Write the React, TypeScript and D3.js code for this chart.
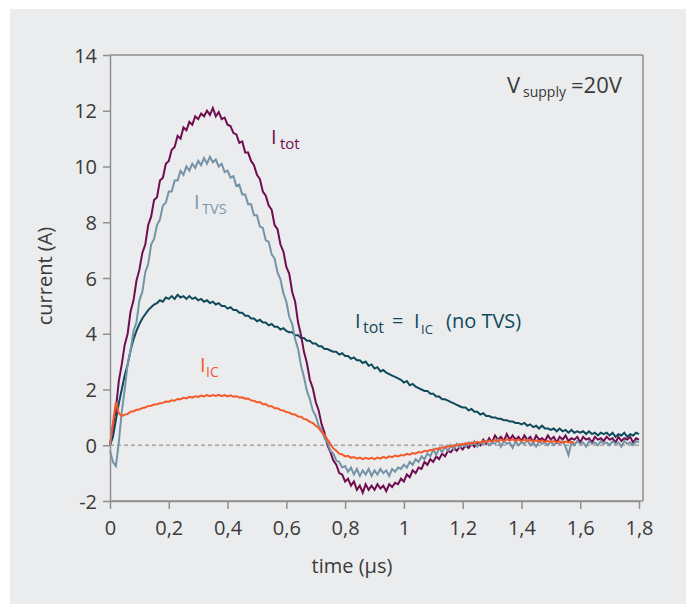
import * as d3 from "d3";
import React, { useEffect, useRef } from "react";

// sampled every 0.01 µs starting at t = 0
const SAMPLE_STEP_US = 0.01;

// I_tot with TVS (purple)
const iTot = [
  0.0, 0.7, 1.3, 2.3, 2.9, 3.6, 4.0, 4.8, 5.2, 5.9,
  6.3, 6.9, 7.2, 7.9, 8.2, 8.8, 8.9, 9.5, 9.6, 10.1,
  10.2, 10.6, 10.7, 11.1, 11.0, 11.4, 11.3, 11.6, 11.5, 11.8,
  11.7, 11.9, 11.8, 12.0, 11.85, 12.1, 11.8, 11.95, 11.7, 11.75,
  11.5, 11.45, 11.2, 11.15, 10.85, 10.9, 10.5, 10.5, 10.2, 10.05,
  9.7, 9.55, 9.1, 8.95, 8.6, 8.45, 7.9, 7.75, 7.2, 6.95,
  6.4, 6.15, 5.5, 5.15, 4.4, 3.95, 3.35, 2.95, 2.35, 2.05,
  1.55, 1.25, 0.75, 0.45, 0.0, -0.25, -0.55, -0.7, -1.0, -1.05,
  -1.3, -1.2, -1.45, -1.3, -1.6, -1.45, -1.7, -1.4, -1.6, -1.45,
  -1.6, -1.4, -1.55, -1.45, -1.65, -1.4, -1.5, -1.35, -1.4, -1.2,
  -1.3, -1.05, -1.15, -0.9, -1.0, -0.8, -0.85, -0.6, -0.7, -0.5,
  -0.6, -0.4, -0.5, -0.3, -0.4, -0.2, -0.25, -0.1, -0.2, -0.05,
  -0.15, 0.0, -0.1, 0.05, -0.05, 0.1, 0.0, 0.2, 0.05, 0.25,
  0.1, 0.35, 0.2, 0.3, 0.15, 0.4, 0.2, 0.35, 0.2, 0.3,
  0.15, 0.35, 0.2, 0.3, 0.1, 0.35, 0.2, 0.25, 0.15, 0.35,
  0.2, 0.3, 0.1, 0.3, 0.2, 0.35, 0.15, 0.25, 0.2, 0.3,
  0.1, 0.3, 0.2, 0.25, 0.1, 0.3, 0.2, 0.25, 0.15, 0.3,
  0.2, 0.25, 0.1, 0.3, 0.15, 0.25, 0.2, 0.3, 0.1, 0.25,
  0.2,
];

// I_TVS (grey blue)
const iTvs = [
  -0.2, -0.6, -0.75, 0.1, 1.2, 2.0, 2.9, 3.4, 4.1, 4.4,
  5.2, 5.5, 6.2, 6.5, 7.2, 7.4, 7.9, 8.1, 8.6, 8.7,
  9.1, 9.1, 9.5, 9.5, 9.85, 9.7, 10.0, 9.85, 10.1, 9.95,
  10.2, 10.05, 10.3, 10.1, 10.35, 10.15, 10.25, 10.0, 10.1, 9.8,
  9.85, 9.6, 9.65, 9.3, 9.35, 9.0, 9.0, 8.65, 8.65, 8.25,
  8.25, 7.85, 7.8, 7.35, 7.3, 6.85, 6.7, 6.2, 5.95, 5.45,
  5.15, 4.6, 4.35, 3.8, 3.45, 2.85, 2.45, 1.95, 1.65, 1.25,
  1.05, 0.7, 0.55, 0.25, 0.1, -0.2, -0.3, -0.55, -0.6, -0.8,
  -0.75, -0.95, -0.8, -1.05, -0.85, -1.1, -0.9, -1.05, -0.85, -1.1,
  -0.9, -1.05, -0.85, -1.0, -0.9, -1.1, -0.85, -0.95, -0.8, -0.85,
  -0.7, -0.8, -0.6, -0.7, -0.5, -0.6, -0.4, -0.5, -0.3, -0.4,
  -0.15, -0.35, -0.1, -0.25, -0.05, -0.2, 0.0, -0.15, 0.05, -0.1,
  0.05, -0.05, 0.1, 0.0, 0.15, -0.05, 0.1, 0.05, 0.15, 0.0,
  0.1, 0.05, 0.2, -0.05, 0.15, 0.05, 0.1, -0.1, 0.15, 0.0,
  0.1, 0.05, 0.2, 0.0, 0.1, -0.05, 0.15, 0.05, 0.1, 0.0,
  0.15, 0.0, 0.1, 0.05, 0.15, -0.05, -0.35, 0.1, 0.0, 0.15,
  0.05, 0.1, -0.05, 0.15, 0.05, 0.1, 0.0, 0.15, 0.05, 0.1,
  0.0, 0.15, 0.05, 0.1, -0.05, 0.15, 0.05, 0.1, 0.0, 0.15,
  0.1,
];

// I_tot = I_IC without TVS (dark teal)
const iNoTvs = [
  0.0, 0.3, 0.9, 1.5, 2.0, 2.5, 2.9, 3.4, 3.8, 4.1,
  4.35, 4.55, 4.7, 4.85, 4.95, 5.05, 5.1, 5.2, 5.15, 5.3,
  5.25, 5.35, 5.25, 5.4, 5.3, 5.35, 5.25, 5.35, 5.25, 5.3,
  5.2, 5.25, 5.15, 5.2, 5.1, 5.15, 5.05, 5.1, 5.0, 5.0,
  4.9, 4.95, 4.85, 4.85, 4.75, 4.75, 4.65, 4.65, 4.55, 4.55,
  4.45, 4.5, 4.4, 4.4, 4.3, 4.35, 4.25, 4.25, 4.15, 4.2,
  4.1, 4.05, 4.05, 3.95, 3.95, 3.85, 3.85, 3.75, 3.75, 3.65,
  3.65, 3.55, 3.55, 3.45, 3.45, 3.4, 3.35, 3.35, 3.25, 3.3,
  3.2, 3.2, 3.1, 3.15, 3.05, 3.05, 2.95, 3.0, 2.85, 2.9,
  2.75, 2.8, 2.65, 2.7, 2.6, 2.55, 2.5, 2.45, 2.4, 2.35,
  2.25, 2.3, 2.15, 2.2, 2.1, 2.05, 2.0, 1.95, 1.95, 1.85,
  1.85, 1.75, 1.75, 1.65, 1.65, 1.6, 1.55, 1.5, 1.45, 1.4,
  1.35, 1.35, 1.25, 1.3, 1.2, 1.2, 1.1, 1.15, 1.05, 1.05,
  1.0, 1.0, 0.95, 0.95, 0.9, 0.9, 0.85, 0.85, 0.8, 0.8,
  0.75, 0.8, 0.7, 0.75, 0.65, 0.7, 0.6, 0.7, 0.6, 0.6,
  0.55, 0.6, 0.5, 0.6, 0.5, 0.55, 0.45, 0.55, 0.45, 0.5,
  0.45, 0.5, 0.4, 0.5, 0.4, 0.45, 0.35, 0.45, 0.4, 0.45,
  0.35, 0.45, 0.3, 0.4, 0.35, 0.45, 0.3, 0.4, 0.35, 0.45,
  0.4,
];

// I_IC with TVS (orange), recorded up to 1.58 µs
const iIc = [
  0.0, 0.8, 1.55, 1.15, 1.05, 1.1, 1.12, 1.2, 1.22, 1.27,
  1.28, 1.34, 1.35, 1.41, 1.42, 1.46, 1.47, 1.51, 1.52, 1.57,
  1.56, 1.61, 1.6, 1.66, 1.65, 1.7, 1.68, 1.74, 1.71, 1.76,
  1.73, 1.78, 1.75, 1.8, 1.76, 1.8, 1.77, 1.81, 1.76, 1.8,
  1.75, 1.79, 1.74, 1.76, 1.71, 1.72, 1.67, 1.68, 1.61, 1.6,
  1.54, 1.55, 1.47, 1.48, 1.4, 1.4, 1.33, 1.33, 1.26, 1.25,
  1.19, 1.17, 1.11, 1.1, 1.03, 1.02, 0.94, 0.92, 0.84, 0.8,
  0.7, 0.62, 0.47, 0.38, 0.2, 0.05, -0.12, -0.2, -0.3, -0.33,
  -0.4, -0.38, -0.45, -0.42, -0.48, -0.44, -0.5, -0.45, -0.49, -0.45,
  -0.5, -0.44, -0.48, -0.42, -0.46, -0.4, -0.43, -0.37, -0.4, -0.35,
  -0.37, -0.31, -0.34, -0.28, -0.3, -0.24, -0.26, -0.2, -0.22, -0.16,
  -0.18, -0.12, -0.13, -0.07, -0.09, -0.03, -0.05, 0.0, -0.01, 0.04,
  0.02, 0.07, 0.05, 0.1, 0.07, 0.12, 0.09, 0.15, 0.11, 0.17,
  0.13, 0.19, 0.15, 0.2, 0.16, 0.21, 0.17, 0.21, 0.16, 0.2,
  0.15, 0.2, 0.16, 0.19, 0.14, 0.18, 0.13, 0.17, 0.12, 0.16,
  0.11, 0.15, 0.1, 0.14, 0.09, 0.13, 0.1, 0.12, 0.08,
];

const xTicks = [0, 0.2, 0.4, 0.6, 0.8, 1, 1.2, 1.4, 1.6, 1.8];
const yTicks = [-2, 0, 2, 4, 6, 8, 10, 12, 14];

const FONT = "'Open Sans', 'Noto Sans', sans-serif";
const TEXT = "#3a3a3a";
const AXIS = "#8f8f8f";

const series = [
  { name: "noTvs", values: iNoTvs, color: "#0e4a5b" },
  { name: "tot", values: iTot, color: "#700c50" },
  { name: "tvs", values: iTvs, color: "#7593a7" },
  { name: "ic", values: iIc, color: "#f45a28" },
];

export default function App() {
  const svgRef = useRef<SVGSVGElement>(null);

  useEffect(() => {
    const svg = d3.select(svgRef.current);
    svg.selectAll("*").remove();

    const x = d3.scaleLinear().domain([0, 1.8]).range([110, 639]);
    const y = d3.scaleLinear().domain([-2, 14]).range([501, 55]);
    const frameRight = 643;

    // Grey panel
    svg.append("rect")
      .attr("x", 10).attr("y", 9)
      .attr("width", 676).attr("height", 595)
      .attr("fill", "#ebecee");

    // Zero line
    svg.append("line")
      .attr("x1", x(0)).attr("x2", frameRight)
      .attr("y1", y(0)).attr("y2", y(0))
      .attr("stroke", "#a3a3a3")
      .attr("stroke-width", 1.5)
      .attr("stroke-dasharray", "4 3");

    // Lines
    const line = d3.line<number>()
      .x((_, i) => x(i * SAMPLE_STEP_US))
      .y(d => y(d));

    series.forEach(s => {
      svg.append("path")
        .datum(s.values)
        .attr("fill", "none")
        .attr("stroke", s.color)
        .attr("stroke-width", 2)
        .attr("d", line);
    });

    // Frame (top, right, bottom extension)
    const frame = svg.append("g").attr("stroke", AXIS).attr("stroke-width", 1.5);
    frame.append("line").attr("x1", x(0)).attr("x2", frameRight).attr("y1", y(14)).attr("y2", y(14));
    frame.append("line").attr("x1", frameRight).attr("x2", frameRight).attr("y1", y(14)).attr("y2", y(-2));
    frame.append("line").attr("x1", x(0)).attr("x2", frameRight).attr("y1", y(-2)).attr("y2", y(-2));

    // Axes
    const xAxis = svg.append("g")
      .attr("transform", `translate(0,${y(-2)})`)
      .call(d3.axisBottom(x)
        .tickValues(xTicks)
        .tickSize(8)
        .tickSizeOuter(0)
        .tickPadding(12)
        .tickFormat(d => String(d).replace(".", ",")));

    const yAxis = svg.append("g")
      .attr("transform", `translate(${x(0)},0)`)
      .call(d3.axisLeft(y)
        .tickValues(yTicks)
        .tickSize(7)
        .tickSizeOuter(0)
        .tickPadding(6)
        .tickFormat(d => String(d)));

    [xAxis, yAxis].forEach(a => {
      a.selectAll("path, line").attr("stroke", AXIS).attr("stroke-width", 1.5);
      a.selectAll("text")
        .attr("fill", TEXT)
        .style("font-family", FONT)
        .style("font-size", "20px");
    });
    yAxis.selectAll("text").attr("dy", "0.35em");

    // Axis labels
    svg.append("text")
      .attr("x", 352).attr("y", 573)
      .attr("text-anchor", "middle")
      .attr("fill", TEXT)
      .style("font-family", FONT)
      .style("font-size", "20px")
      .text("time (µs)");

    svg.append("text")
      .attr("transform", "translate(52,276) rotate(-90)")
      .attr("text-anchor", "middle")
      .attr("fill", TEXT)
      .style("font-family", FONT)
      .style("font-size", "20px")
      .text("current (A)");

    // Annotations
    const label = (parts: { t: string; x: number; y: number; size: number }[], color: string) => {
      const g = svg.append("g").attr("fill", color).style("font-family", FONT);
      parts.forEach(p => {
        g.append("text").attr("x", p.x).attr("y", p.y).style("font-size", `${p.size}px`).text(p.t);
      });
    };

    label([
      { t: "V", x: 507, y: 93, size: 22 },
      { t: "supply", x: 523, y: 97, size: 14 },
      { t: "=20V", x: 571, y: 93, size: 22 },
    ], TEXT);

    label([
      { t: "I", x: 271, y: 144, size: 20 },
      { t: "tot", x: 280, y: 149, size: 15 },
    ], "#700c50");

    label([
      { t: "I", x: 194, y: 209, size: 20 },
      { t: "TVS", x: 202, y: 214, size: 14.5 },
    ], "#7a98ac");

    label([
      { t: "I", x: 200, y: 372, size: 20 },
      { t: "IC", x: 206, y: 377, size: 14 },
    ], "#f45a28");

    label([
      { t: "I", x: 355, y: 328, size: 20 },
      { t: "tot", x: 363, y: 333, size: 16 },
      { t: "=", x: 392, y: 328, size: 20 },
      { t: "I", x: 414, y: 328, size: 20 },
      { t: "IC", x: 421, y: 334, size: 13 },
      { t: "(no TVS)", x: 446, y: 328, size: 20 },
    ], "#0e4a5b");
  }, []);

  return (
    <svg
      ref={svgRef}
      width={686}
      height={605}
      style={{ position: "absolute", left: 0, top: 0 }}
    />
  );
}
